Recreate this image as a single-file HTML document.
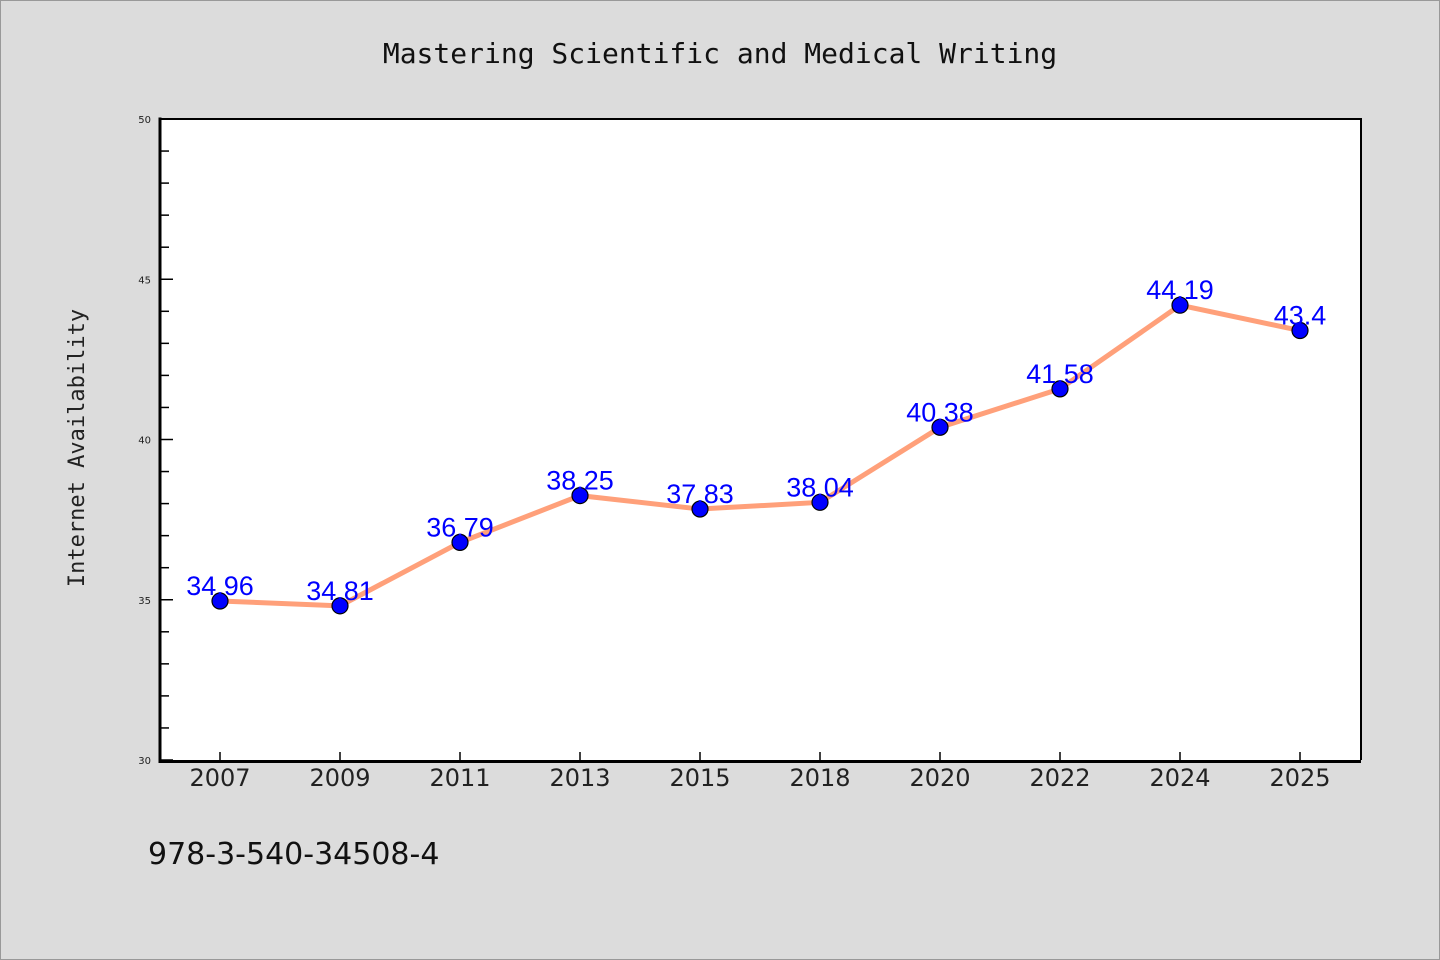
<!DOCTYPE html>
<html><head><meta charset="utf-8"><style>
html,body{margin:0;padding:0;background:#dcdcdc;}
svg{display:block;}
</style></head><body>
<svg width="1440" height="960" viewBox="0 0 1440 960" id="chart">
<rect x="0.5" y="0.5" width="1439" height="959" fill="#dcdcdc" stroke="#999"/>
<text x="720" y="63" text-anchor="middle" font-family="DejaVu Sans Mono, Liberation Mono, monospace" font-size="28" fill="#111">Mastering Scientific and Medical Writing</text>
<rect x="160" y="119" width="1201" height="641" fill="#fff"/>
<g id="ticks"></g>
<path d="M160,119 H1361 V760" fill="none" stroke="#000" stroke-width="2"/>
<path d="M160,117.5 V761.5 H1361" fill="none" stroke="#000" stroke-width="3"/>
<text transform="translate(84,448) rotate(-90)" text-anchor="middle" font-family="DejaVu Sans Mono, Liberation Mono, monospace" font-size="22" fill="#222">Internet Availability</text>
<text x="148" y="864" font-family="DejaVu Sans, Liberation Sans, sans-serif" font-size="30" fill="#111">978-3-540-34508-4</text>
<g id="marks"></g>
</svg>
<script>
const categories = ["2007","2009","2011","2013","2015","2018","2020","2022","2024","2025"];
const values = [34.96,34.81,36.79,38.25,37.83,38.04,40.38,41.58,44.19,43.4];
const valueLabels = ["34.96","34.81","36.79","38.25","37.83","38.04","40.38","41.58","44.19","43.4"];
const yTicks = [30,35,40,45,50];
const NS="http://www.w3.org/2000/svg";
const x0=160,x1=1361,y0=760,y1=119,ymin=30,ymax=50;
function xs(i){return 220+i*120;}
function ys(v){return y0-(v-ymin)/(ymax-ymin)*(y0-y1);}
function mk(t,a,p){const e=document.createElementNS(NS,t);for(const k in a)e.setAttribute(k,a[k]);p.appendChild(e);return e;}
const tg=document.getElementById('ticks'), mg=document.getElementById('marks');
for(let v=ymin;v<=ymax;v++){
  const major=yTicks.includes(v);
  const l=mk('line',{x1:x0,x2:x0+(major?13:9),y1:ys(v),y2:ys(v),stroke:'#000','stroke-width':1.5},tg);
  
  
}
yTicks.forEach(v=>{
  const t=mk('text',{x:151,y:ys(v)+4,'text-anchor':'end','font-family':'DejaVu Sans, Liberation Sans, sans-serif','font-size':10,fill:'#222'},tg);
  t.textContent=v;
  
  
});
categories.forEach((c,i)=>{
  const l=mk('line',{x1:xs(i),x2:xs(i),y1:y0,y2:y0-8,stroke:'#000','stroke-width':1.5},tg);
  
  
  const t=mk('text',{x:xs(i),y:786,'text-anchor':'middle','font-family':'DejaVu Sans, Liberation Sans, sans-serif','font-size':24,fill:'#222'},tg);
  t.textContent=c;
  
  
});
const line=mk('polyline',{points:values.map((v,i)=>xs(i)+','+ys(v)).join(' '),fill:'none',stroke:'#ffa07a','stroke-width':5},mg);


values.forEach((v,i)=>{
  const c=mk('circle',{cx:xs(i),cy:ys(v),r:8,fill:'#0000ff',stroke:'#000','stroke-width':1.2},mg);
  
  
});
values.forEach((v,i)=>{
  const t=mk('text',{x:xs(i),y:ys(v)-6,'text-anchor':'middle','font-family':'Liberation Sans, DejaVu Sans, sans-serif','font-size':27,fill:'#0000ff'},mg);
  t.textContent=valueLabels[i];
  
  
});
</script>
</body></html>
